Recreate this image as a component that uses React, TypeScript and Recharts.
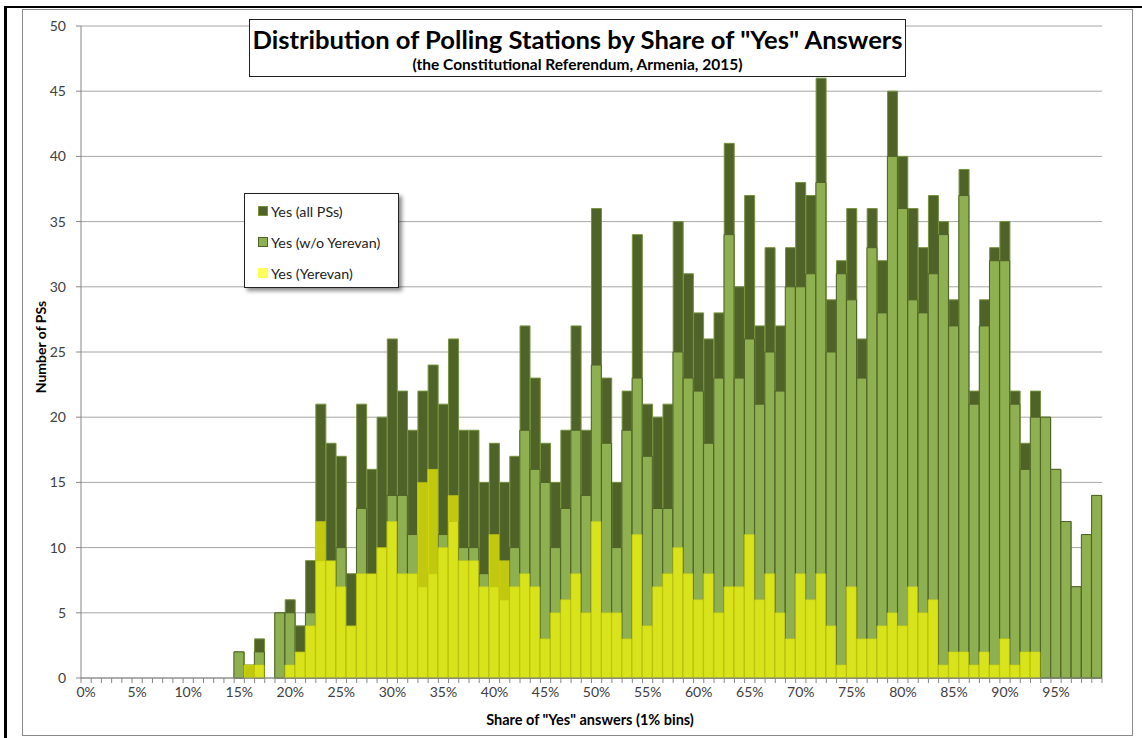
import React from 'react';
import { BarChart, Bar, XAxis, YAxis, CartesianGrid } from 'recharts';

// share of "Yes" answers, 1% bins
const bins: string[] = Array.from({ length: 100 }, (_, i) => `${i}%`);

// number of polling stations per bin
const allPS: number[] = [
  0, 0, 0, 0, 0, 0, 0, 0, 0, 0,
  0, 0, 0, 0, 0, 2, 1, 3, 0, 5,
  6, 4, 9, 21, 18, 17, 8, 21, 16, 20,
  26, 22, 19, 22, 24, 21, 26, 19, 19, 15,
  18, 15, 17, 27, 23, 18, 15, 19, 27, 19,
  36, 23, 15, 22, 34, 21, 20, 21, 35, 31,
  28, 26, 28, 41, 30, 37, 27, 33, 27, 33,
  38, 37, 46, 29, 32, 36, 26, 36, 32, 45,
  40, 36, 33, 37, 35, 29, 39, 22, 29, 33,
  35, 22, 18, 22, 20, 16, 12, 7, 11, 14,
];

const withoutYerevan: number[] = [
  0, 0, 0, 0, 0, 0, 0, 0, 0, 0,
  0, 0, 0, 0, 0, 2, 0, 2, 0, 5,
  5, 2, 5, 9, 9, 10, 4, 13, 8, 10,
  14, 14, 11, 7, 8, 11, 12, 10, 10, 8,
  7, 6, 10, 19, 16, 15, 10, 13, 19, 14,
  24, 18, 10, 19, 23, 17, 13, 13, 25, 23,
  22, 18, 23, 34, 23, 26, 21, 25, 22, 30,
  30, 31, 38, 25, 31, 29, 23, 33, 28, 40,
  36, 29, 28, 31, 34, 27, 37, 21, 27, 32,
  32, 21, 16, 20, 20, 16, 12, 7, 11, 14,
];

const yerevan: number[] = [
  0, 0, 0, 0, 0, 0, 0, 0, 0, 0,
  0, 0, 0, 0, 0, 0, 1, 1, 0, 0,
  1, 2, 4, 12, 9, 7, 4, 8, 8, 10,
  12, 8, 8, 15, 16, 10, 14, 9, 9, 7,
  11, 9, 7, 8, 7, 3, 5, 6, 8, 5,
  12, 5, 5, 3, 11, 4, 7, 8, 10, 8,
  6, 8, 5, 7, 7, 11, 6, 8, 5, 3,
  8, 6, 8, 4, 1, 7, 3, 3, 4, 5,
  4, 7, 5, 6, 1, 2, 2, 1, 2, 1,
  3, 1, 2, 2, 0, 0, 0, 0, 0, 0,
];

const yTicks = [0, 5, 10, 15, 20, 25, 30, 35, 40, 45, 50];

const data = bins.map((bin, i) => ({
  bin,
  all: allPS[i],
  wo: withoutYerevan[i],
  yer: yerevan[i],
}));

const FONT = 'Lato, "Open Sans", sans-serif';
const DARK = '#4f6228';
const LIGHT = '#8fb050';
const YELLOW = '#ffff00';
const BAND = 1021 / 100;

const BinTick = (props: any) => {
  const { x, y, index } = props;
  return (
    <g>
      <line x1={x - BAND / 2} x2={x - BAND / 2} y1={y} y2={y + 5} stroke="#868686" />
      {index === 99 && <line x1={x + BAND / 2} x2={x + BAND / 2} y1={y} y2={y + 5} stroke="#868686" />}
      {index % 5 === 0 && (
        <text x={x} y={y + 19} textAnchor="middle" fontSize={14} fill="#404040" fontFamily={FONT}>
          {props.payload.value}
        </text>
      )}
    </g>
  );
};

const legendItems = [
  { name: 'Yes (all PSs)', fill: DARK, stroke: '#77933c' },
  { name: 'Yes (w/o Yerevan)', fill: LIGHT, stroke: DARK },
  { name: 'Yes (Yerevan)', fill: 'rgba(255,255,0,0.65)', stroke: 'none' },
];

export default function App() {
  return (
    <div style={{ position: 'absolute', left: 0, top: 0, width: 1142, height: 738, background: '#fff', fontFamily: FONT }}>
      {/* outer frame */}
      <div style={{ position: 'absolute', left: 4, top: 6, width: 3, height: 732, background: '#000' }} />
      <div style={{ position: 'absolute', left: 4, top: 6, width: 1138, height: 2, background: '#000' }} />
      <div style={{ position: 'absolute', left: 22, top: 9, width: 1109, height: 725, border: '1px solid #8a8a8a' }} />

      <div style={{ position: 'absolute', left: 0, top: 0 }}>
        <BarChart
          width={1142}
          height={738}
          data={data}
          margin={{ top: 26, right: 40, bottom: 30, left: 0 }}
          barCategoryGap={0}
          barGap="-100%"
        >
          <CartesianGrid vertical={false} stroke="#a6a6a6" />
          <XAxis
            dataKey="bin"
            interval={0}
            height={30}
            tickSize={0}
            tickMargin={0}
            tickLine={false}
            tick={<BinTick />}
            axisLine={{ stroke: '#868686' }}
          />
          <YAxis
            width={81}
            domain={[0, 50]}
            ticks={yTicks}
            interval={0}
            tickSize={5}
            tickMargin={10}
            tickLine={{ stroke: '#868686' }}
            axisLine={{ stroke: '#868686' }}
            tick={{ fontSize: 14, fill: '#404040', fontFamily: FONT }}
          />
          <Bar dataKey="all" fill={DARK} stroke="#77933c" strokeWidth={1} isAnimationActive={false} />
          <Bar dataKey="wo" fill={LIGHT} stroke={DARK} strokeWidth={1} isAnimationActive={false} />
          <Bar dataKey="yer" fill={YELLOW} fillOpacity={0.65} stroke="#c8cc10" strokeOpacity={0.5} strokeWidth={1} isAnimationActive={false} />
        </BarChart>
      </div>

      {/* title */}
      <div
        style={{
          position: 'absolute', left: 249, top: 19, width: 655, height: 56,
          border: '1.5px solid #222', background: '#fff', textAlign: 'center', color: '#000',
        }}
      >
        <div style={{ fontWeight: 700, fontSize: 25.6, lineHeight: '30px', marginTop: 4 }}>
          Distribution of Polling Stations by Share of "Yes" Answers
        </div>
        <div style={{ fontWeight: 700, fontSize: 15.5, lineHeight: '18px', marginTop: 1 }}>
          (the Constitutional Referendum, Armenia, 2015)
        </div>
      </div>

      {/* legend */}
      <div
        style={{
          position: 'absolute', left: 244, top: 193, width: 153, height: 93,
          border: '1px solid #222', background: '#fff', boxShadow: '3px 3px 4px rgba(0,0,0,0.45)',
        }}
      >
        {legendItems.map((it, i) => (
          <div key={it.name} style={{ position: 'absolute', left: 13, top: 8 + i * 31, height: 18, display: 'flex', alignItems: 'center', fontSize: 14.3, color: '#222', whiteSpace: 'nowrap' }}>
            <span style={{ display: 'inline-block', width: 8, height: 8, background: it.fill, border: it.stroke === 'none' ? '1px solid transparent' : `1px solid ${it.stroke}`, marginRight: 3 }} />
            {it.name}
          </div>
        ))}
      </div>

      {/* axis titles */}
      <div
        style={{
          position: 'absolute', left: 40, top: 347, transform: 'translate(-50%, -50%) rotate(-90deg)',
          fontWeight: 700, fontSize: 14, whiteSpace: 'nowrap', color: '#000',
        }}
      >
        Number of PSs
      </div>
      <div
        style={{
          position: 'absolute', left: 590, top: 719, transform: 'translate(-50%, -50%)',
          fontWeight: 700, fontSize: 14.5, whiteSpace: 'nowrap', color: '#000',
        }}
      >
        Share of "Yes" answers (1% bins)
      </div>
    </div>
  );
}
